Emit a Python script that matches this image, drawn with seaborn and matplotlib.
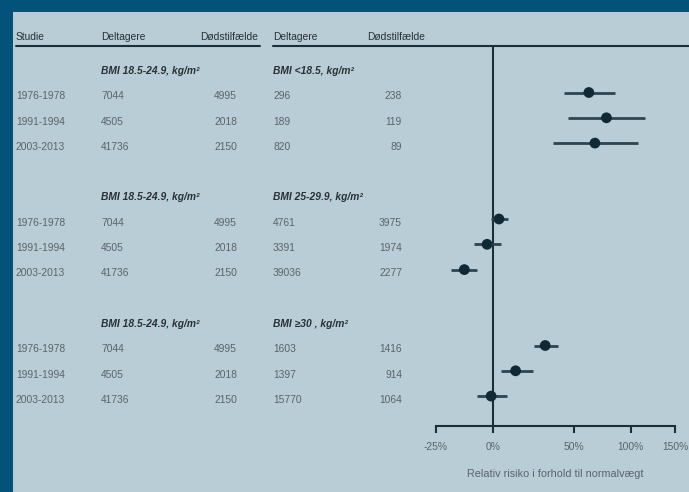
import numpy as np
import pandas as pd
import matplotlib
matplotlib.use("Agg")
import matplotlib.pyplot as plt
import seaborn as sns
from matplotlib.patches import Rectangle
from matplotlib.lines import Line2D
from matplotlib.transforms import blended_transform_factory

# ---------------- data ----------------
studies = ["1976-1978", "1991-1994", "2003-2013"]
ref_label = "BMI 18.5-24.9, kg/m²"
ref_participants = ["7044", "4505", "41736"]
ref_deaths = ["4995", "2018", "2150"]

group_labels = ["BMI <18.5, kg/m²", "BMI 25-29.9, kg/m²", "BMI ≥30 , kg/m²"]
grp_participants = [["296", "189", "820"],
                    ["4761", "3391", "39036"],
                    ["1603", "1397", "15770"]]
grp_deaths = [["238", "119", "89"],
              ["3975", "1974", "2277"],
              ["1416", "914", "1064"]]

# relative risk (point estimate, lower, upper)
rr_est = [[1.62, 1.77, 1.67],
          [1.03, 0.97, 0.865],
          [1.30, 1.12, 0.99]]
rr_low = [[1.43, 1.46, 1.35],
          [0.99, 0.91, 0.81],
          [1.23, 1.04, 0.92]]
rr_high = [[1.85, 2.15, 2.07],
           [1.08, 1.04, 0.92],
           [1.39, 1.22, 1.07]]

tick_values = [0.75, 1.0, 1.5, 2.0, 2.5]
tick_labels = ["-25%", "0%", "50%", "100%", "150%"]
col_headers = ["Studie", "Deltagere", "Dødstilfælde", "Deltagere", "Dødstilfælde"]
x_label = "Relativ risiko i forhold til normalvægt"

# ---------------- style ----------------
W, H = 689, 492
BORDER = "#02527a"
BG = "#b8cdd5"
DARK = "#1c2f38"
TEXT_HEAD = "#2a3035"
TEXT = "#5a6468"
FS = 7.4

sns.set_theme(style="white")
plt.rcParams["font.family"] = ["Liberation Sans", "DejaVu Sans"]

fig = plt.figure(figsize=(W / 100, H / 100), dpi=100, facecolor=BORDER)
fig.patches.append(Rectangle((13 / W, 0), 1 - 13 / W, 1 - 12 / H,
                             transform=fig.transFigure, facecolor=BG,
                             edgecolor="none", zorder=-10))

def fx(px):
    return px / W

def fy(py):
    return 1 - py / H

ax_l, ax_r, ax_t, ax_b = 436, 675, 46, 426
ax = fig.add_axes([fx(ax_l), fy(ax_b), fx(ax_r) - fx(ax_l), fy(ax_t) - fy(ax_b)])
ax.set_facecolor("none")
ax.patch.set_visible(False)

row0, row_h = 71, 25.3

# build forest data
rows = []
for g in range(3):
    for i in range(3):
        r = g * 5 + 1 + i
        rows.append(dict(row=r - 0.15, est=rr_est[g][i], lo=rr_low[g][i], hi=rr_high[g][i]))
df = pd.DataFrame(rows)

ax.axvline(1.0, color=DARK, lw=1.5, zorder=1)
ax.hlines(df["row"], df["lo"], df["hi"], color="#2c4550", lw=2.0, zorder=2)
sns.scatterplot(data=df, x="est", y="row", ax=ax, color="#0f2a35", s=60,
                edgecolor="none", zorder=3, legend=False)

ax.set_xscale("log")
ax.set_xlim(0.75, 2.5)
ax.set_ylim((ax_b - row0) / row_h, (ax_t - row0) / row_h)
ax.set_xticks(tick_values)
ax.set_xticklabels(tick_labels)
ax.xaxis.set_minor_locator(matplotlib.ticker.NullLocator())
ax.set_yticks([])
for s in ["top", "right", "left"]:
    ax.spines[s].set_visible(False)
ax.spines["bottom"].set_color(DARK)
ax.spines["bottom"].set_linewidth(1.5)
ax.tick_params(axis="x", direction="out", length=5, width=1.5, color=DARK,
               labelsize=FS, labelcolor=TEXT, pad=6.5, bottom=True)
ax.set_xlabel(x_label, fontsize=FS + 0.4, color=TEXT, labelpad=12)
ax.set_ylabel("")

# ---------------- table texts ----------------
tr = blended_transform_factory(fig.transFigure, ax.transData)
hx = [(16, "left"), (101, "left"), (258, "right"), (273, "left"), (425, "right")]
for (px, ha), lab in zip(hx, col_headers):
    fig.text(fx(px), fy(37), lab, ha=ha, va="center", fontsize=FS,
             color=TEXT_HEAD)

fig.add_artist(Line2D([fx(16), fx(260)], [fy(46), fy(46)], color=DARK, lw=1.5))
fig.add_artist(Line2D([fx(273), fx(689)], [fy(46), fy(46)], color=DARK, lw=1.5))

for g in range(3):
    hr = g * 5
    ax.text(fx(101), hr, ref_label, transform=tr, ha="left", va="center",
            fontsize=FS, style="italic", fontweight="bold", color=TEXT_HEAD, clip_on=False)
    ax.text(fx(273), hr, group_labels[g], transform=tr, ha="left", va="center",
            fontsize=FS, style="italic", fontweight="bold", color=TEXT_HEAD, clip_on=False)
    for i in range(3):
        r = hr + 1 + i
        ax.text(fx(16), r, studies[i], transform=tr, ha="left", va="center",
                fontsize=FS, color=TEXT, clip_on=False)
        ax.text(fx(101), r, ref_participants[i], transform=tr, ha="left", va="center",
                fontsize=FS, color=TEXT, clip_on=False)
        ax.text(fx(237), r, ref_deaths[i], transform=tr, ha="right", va="center",
                fontsize=FS, color=TEXT, clip_on=False)
        ax.text(fx(273), r, grp_participants[g][i], transform=tr, ha="left", va="center",
                fontsize=FS, color=TEXT, clip_on=False)
        ax.text(fx(402), r, grp_deaths[g][i], transform=tr, ha="right", va="center",
                fontsize=FS, color=TEXT, clip_on=False)

fig.savefig("out.png", dpi=100, facecolor=BORDER)
